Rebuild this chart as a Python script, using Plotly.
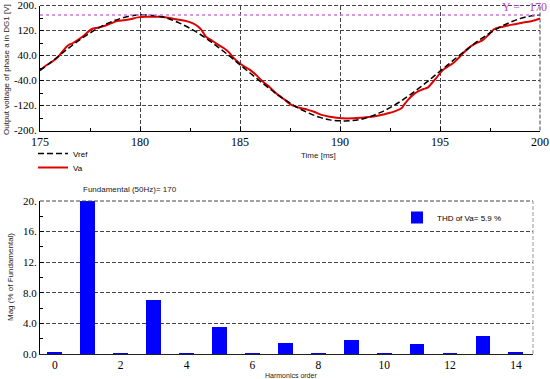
import plotly.graph_objects as go

# ---------------- data: top panel (time in ms, voltage in V) ----------------
t_ref = [175.0, 175.5, 176.0, 176.5, 177.0, 177.5, 178.0, 178.5, 179.0, 179.5,
         180.0, 180.5, 181.0, 181.5, 182.0, 182.5, 183.0, 183.5, 184.0, 184.5,
         185.0, 185.5, 186.0, 186.5, 187.0, 187.5, 188.0, 188.5, 189.0, 189.5,
         190.0, 190.5, 191.0, 191.5, 192.0, 192.5, 193.0, 193.5, 194.0, 194.5,
         195.0, 195.5, 196.0, 196.5, 197.0, 197.5, 198.0, 198.5, 199.0, 199.5,
         200.0]
v_ref = [-8, 16, 42, 67, 91, 112, 131, 146, 158, 166,
         170, 169, 165, 156, 143, 127, 108, 86, 62, 37,
         10, -16, -42, -67, -91, -112, -131, -146, -158, -166,
         -169, -169, -165, -156, -143, -127, -108, -86, -62, -37,
         -10, 16, 42, 67, 91, 112, 131, 146, 158, 166,
         170]

t_va = [175.0, 175.3, 175.6, 175.9, 176.15, 176.4, 176.65, 176.9, 177.2, 177.57,
        177.9, 178.2, 178.55, 178.9, 179.2, 179.5, 179.9, 180.3, 180.6, 181.0,
        181.4, 181.8, 182.2, 182.65, 182.9, 183.07, 183.3, 183.55, 183.8, 184.2,
        184.45, 184.65, 184.98, 185.2, 185.5, 185.8, 186.15, 186.5, 186.8, 187.2,
        187.57, 187.9, 188.4, 188.7, 189.07, 189.5, 190.07, 190.7, 191.1, 191.57,
        192.0, 192.4, 192.8, 193.07, 193.2, 193.4, 193.65, 193.9, 194.15, 194.4,
        194.6, 194.8, 195.15, 195.4, 195.65, 195.9, 196.15, 196.4, 196.65, 196.9,
        197.15, 197.45, 197.7, 197.95, 198.15, 198.55, 198.98, 199.3, 199.65, 200.0]
v_va = [-6, 8, 20, 35, 55, 72, 80, 90, 104, 124,
        129, 134, 143, 151, 153, 156, 162, 164, 164, 164,
        161, 156, 152, 143, 133, 122, 100, 90, 79, 63,
        50, 34, 15, 5, -6, -22, -44, -62, -81, -100,
        -118, -126, -134, -140, -150, -156, -161, -161, -159, -156,
        -151, -145, -137, -129, -118, -102, -86, -75, -68, -62,
        -48, -33, -6, 5, 15, 30, 47, 62, 74, 82,
        90, 108, 124, 130, 132, 138, 143, 147, 151, 159]

ref_level = 170
y_ticks_top = [-200, -120, -40, 40, 120, 200]
y_ticktext_top = ["-200.", "-120.", "-40.0", "40.0", "120.", "200."]
x_ticks_top = [175, 180, 185, 190, 195, 200]

# ---------------- data: bottom panel (harmonic spectrum) ----------------
harm_order = [0, 1, 2, 3, 4, 5, 6, 7, 8, 9, 10, 11, 12, 13, 14]
harm_mag = [0.2, 100, 0.1, 7.0, 0.05, 3.55, 0.05, 1.5, 0.05, 1.85, 0.12, 1.35, 0.05, 2.3, 0.2]
fundamental = 170
thd = 5.9
y_ticks_bot = [0, 4, 8, 12, 16, 20]
y_ticktext_bot = ["0.0", "4.0", "8.0", "12.", "16.", "20."]
x_ticks_bot = [0, 2, 4, 6, 8, 10, 12, 14]

W, H = 550, 379
SANS = "Liberation Sans, Arial, sans-serif"
SERIF = "Liberation Serif, Times New Roman, serif"
GRID_DASH = "4px,2px"

fig = go.Figure()

fig.add_trace(go.Scatter(x=t_va, y=v_va, mode="lines", name="Va",
                         line=dict(color="#e00000", width=2, shape="spline"),
                         xaxis="x", yaxis="y", legend="legend3"))
fig.add_trace(go.Scatter(x=t_ref, y=v_ref, mode="lines", name="Vref",
                         line=dict(color="black", width=1.5, dash="6px,3px", shape="spline"),
                         xaxis="x", yaxis="y", legend="legend"))

fig.add_trace(go.Bar(x=harm_order, y=harm_mag, width=0.45, name=f"THD of Va= {thd} %",
                     marker=dict(color="#0000ff", line=dict(width=0)),
                     xaxis="x2", yaxis="y2", legend="legend2"))

grid = dict(showgrid=True, gridcolor="#444444", griddash=GRID_DASH, gridwidth=1,
            automargin=False, ticklabeloverflow="allow")

top_dom_x = [40 / W, 540 / W]
top_dom_y = [1 - 130.5 / H, 1 - 5.5 / H]
bot_dom_x = [40 / W, 533 / W]
bot_dom_y = [1 - 354 / H, 1 - 201 / H]

leg_font = dict(family=SANS, size=8, color="black")

fig.update_layout(
    width=W, height=H, autosize=False,
    margin=dict(l=0, r=0, t=0, b=0, autoexpand=False),
    paper_bgcolor="white", plot_bgcolor="white",
    bargap=0,
    xaxis=dict(domain=top_dom_x, anchor="y", range=[175, 200],
               tickvals=x_ticks_top, ticks="inside", ticklen=4, tickcolor="black",
               minor=dict(ticks="inside", ticklen=3, dtick=2.5, tick0=175, tickcolor="black", showgrid=False),
               showline=True, linecolor="black", linewidth=1, zeroline=False,
               tickfont=dict(family=SERIF, size=12, color="black"), **grid),
    yaxis=dict(domain=top_dom_y, anchor="x", range=[-200, 200],
               tickvals=y_ticks_top, ticktext=y_ticktext_top,
               ticks="inside", ticklen=4, tickcolor="black",
               minor=dict(ticks="inside", ticklen=3, dtick=40, tick0=-200, tickcolor="black", showgrid=False),
               showline=True, linecolor="black", linewidth=1, zeroline=False,
               tickfont=dict(family=SERIF, size=11, color="black"), **grid),
    xaxis2=dict(domain=bot_dom_x, anchor="y2", range=[-0.45, 14.52],
                tickvals=x_ticks_bot, ticks="", showgrid=False, automargin=False,
                ticklabeloverflow="allow",
                showline=True, linecolor="#222222", linewidth=1, zeroline=False,
                tickfont=dict(family=SERIF, size=11.5, color="black")),
    yaxis2=dict(domain=bot_dom_y, anchor="x2", range=[0, 20],
                tickvals=y_ticks_bot, ticktext=y_ticktext_bot,
                ticks="inside", ticklen=4, tickcolor="black",
                minor=dict(ticks="inside", ticklen=3, dtick=2, tick0=0, tickcolor="black", showgrid=False),
                showline=True, linecolor="black", linewidth=1, zeroline=False,
                tickfont=dict(family=SERIF, size=11, color="black"), **grid),
    legend=dict(x=33 / W, y=1 - 139 / H, xanchor="left", yanchor="top",
                bgcolor="rgba(0,0,0,0)", font=leg_font, itemwidth=30),
    legend3=dict(x=33 / W, y=1 - 153 / H, xanchor="left", yanchor="top",
                 bgcolor="rgba(0,0,0,0)", font=leg_font, itemwidth=30),
    legend2=dict(x=397 / W, y=1 - 203 / H, xanchor="left", yanchor="top",
                 bgcolor="rgba(0,0,0,0)", font=leg_font),
    showlegend=True,
)

# reference level line (Y = 170)
fig.add_shape(type="line", xref="x domain", yref="y", x0=0, x1=1, y0=ref_level, y1=ref_level,
              line=dict(color="#cc77dd", width=1.5, dash="dot"), layer="above")

# dashed top/right borders
fig.add_shape(type="line", xref="paper", yref="paper", x0=top_dom_x[0], x1=top_dom_x[1],
              y0=top_dom_y[1], y1=top_dom_y[1], line=dict(color="#444444", width=1, dash=GRID_DASH))
fig.add_shape(type="line", xref="paper", yref="paper", x0=top_dom_x[1], x1=top_dom_x[1],
              y0=top_dom_y[0], y1=top_dom_y[1], line=dict(color="#444444", width=1, dash=GRID_DASH))
fig.add_shape(type="line", xref="paper", yref="paper", x0=bot_dom_x[0], x1=bot_dom_x[1],
              y0=bot_dom_y[1], y1=bot_dom_y[1], line=dict(color="#444444", width=1, dash=GRID_DASH))
fig.add_shape(type="line", xref="paper", yref="paper", x0=bot_dom_x[1], x1=bot_dom_x[1],
              y0=bot_dom_y[0], y1=bot_dom_y[1], line=dict(color="#999999", width=1, dash=GRID_DASH))

def ann(text, px, py, size=8, family=SANS, color="#222222", angle=0, xanchor="center"):
    fig.add_annotation(text=text, x=px / W, y=1 - py / H, xref="paper", yref="paper",
                       showarrow=False, textangle=angle, xanchor=xanchor, yanchor="middle",
                       font=dict(family=family, size=size, color=color))

ann(f"Y =   {ref_level}", 549, 7, size=12, family=SERIF, color="#bb44cc", xanchor="right")
ann("Output voltage of phase a in DG1 [V]", 7, 70, size=8, angle=-90)
ann("Time [ms]", 318, 155, size=8)
ann(f"Fundamental (50Hz)= {fundamental}", 130, 189, size=8)
ann("Mag (% of Fundamental)", 10, 277, size=8, angle=-90)
ann("Harmonics order", 291, 375.5, size=7)

fig.write_html("out.html", config={"displayModeBar": False},
               post_script="document.body.style.margin='0';document.body.style.overflow='hidden';")
